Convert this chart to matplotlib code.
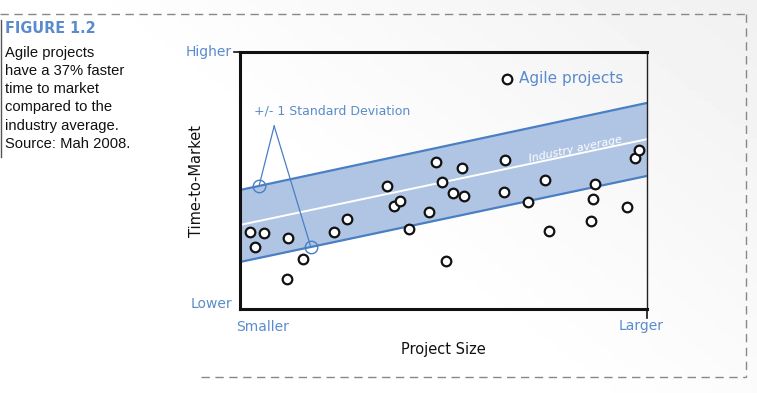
import matplotlib.pyplot as plt
import numpy as np

# project size (0 = smaller, 10 = larger) and time-to-market (0 = lower, 10 = higher)
agile_x = [0.25, 0.59, 0.37, 1.18, 1.15, 1.55, 2.31, 2.63, 3.61, 3.78, 3.93, 4.15, 4.64, 4.82, 4.96,
           5.06, 5.23, 5.45, 5.50, 6.51, 6.49, 7.49, 7.08, 7.59, 8.72, 8.67, 8.62, 9.51, 9.71, 9.80]
agile_y = [3.00, 2.96, 2.41, 2.76, 1.17, 1.95, 3.00, 3.50, 4.79, 4.01, 4.20, 3.11, 3.77, 5.72, 4.94,
           1.87, 4.51, 5.49, 4.40, 5.80, 4.55, 5.02, 4.16, 3.04, 4.86, 4.28, 3.42, 3.97, 5.88, 6.19]

band_x = [0.0, 10.0]
industry_avg = [3.27, 6.61]
band_upper = [4.63, 8.02]
band_lower = [1.83, 5.18]

caption_title = "FIGURE 1.2"
caption_lines = ["Agile projects", "have a 37% faster", "time to market",
                 "compared to the", "industry average.", "Source: Mah 2008."]

BLUE = "#5a8bcc"
EDGE = "#4a7fc3"
FILL = "#b0c5e4"

fig = plt.figure(figsize=(7.57, 3.93), dpi=100)

# faint grey wash towards the lower right, like the scanned page
bg = fig.add_axes([0, 0, 1, 1], zorder=-10)
gx, gy = np.meshgrid(np.linspace(0, 1, 200), np.linspace(0, 1, 100))
wash = np.clip((gx - 0.45) * 0.9 + (0.55 - gy) * 0.6, 0, 1)
bg.imshow(1 - 0.07 * wash, cmap="gray", vmin=0, vmax=1, aspect="auto",
          extent=[0, 1, 0, 1], origin="upper")
bg.axis("off")

# dashed page frame
fig.add_artist(plt.Line2D([0.0, 0.985], [0.965, 0.965], transform=fig.transFigure,
                          color="#888888", lw=1, ls=(0, (6, 4))))
fig.add_artist(plt.Line2D([0.985, 0.985], [0.965, 0.04], transform=fig.transFigure,
                          color="#888888", lw=1, ls=(0, (6, 4))))
fig.add_artist(plt.Line2D([0.265, 0.985], [0.04, 0.04], transform=fig.transFigure,
                          color="#888888", lw=1, ls=(0, (6, 4))))
fig.add_artist(plt.Line2D([0.001, 0.001], [0.95, 0.6], transform=fig.transFigure,
                          color="#555555", lw=1))

# caption on the left
fig.text(0.007, 0.928, caption_title, color=BLUE, fontsize=11.5, fontweight="bold",
         family="DejaVu Sans", fontstretch="condensed", va="center")
for i, line in enumerate(caption_lines):
    fig.text(0.007, 0.866 - i * 0.0465, line, color="#111111", fontsize=10.6,
             family="Liberation Sans", va="center")

ax = fig.add_axes([0.317, 0.2137, 0.538, 0.654])
ax.set_xlim(0, 10)
ax.set_ylim(0, 10)
ax.patch.set_alpha(0)

ax.fill_between(band_x, band_lower, band_upper, color=FILL, lw=0, zorder=1)
ax.plot(band_x, band_upper, color=EDGE, lw=1.6, zorder=2)
ax.plot(band_x, band_lower, color=EDGE, lw=1.6, zorder=2)
ax.plot(band_x, industry_avg, color="white", lw=1.4, zorder=2)

ax.scatter(agile_x, agile_y, s=48, facecolor="white", edgecolor="#111111",
           linewidth=1.6, zorder=4)

# legend
ax.scatter([6.56], [8.95], s=48, facecolor="white", edgecolor="#111111", linewidth=1.6,
           zorder=4, clip_on=False)
ax.text(6.85, 8.95, "Agile projects", color=BLUE, fontsize=11, va="center", ha="left")

# standard deviation callout
ax.text(0.34, 7.7, "+/- 1 Standard Deviation", color=BLUE, fontsize=9, va="center")
peak = (0.84, 7.12)
for cx, cy in [(0.47, 4.80), (1.74, 2.41)]:
    ax.plot([peak[0], cx], [peak[1], cy], color=EDGE, lw=0.9, zorder=3)
    ax.plot([cx], [cy], marker="o", ms=9, mfc="none", mec=EDGE, mew=1.0, zorder=3)

ax.text(8.23, 6.22, "Industry average", color="white", fontsize=8, rotation=12,
        ha="center", va="center", style="italic", rotation_mode="anchor")

# axes frame
for side in ["left", "top", "bottom"]:
    ax.spines[side].set_linewidth(2.2)
    ax.spines[side].set_color("#111111")
ax.spines["right"].set_linewidth(1.0)
ax.spines["right"].set_linestyle((0, (4, 1)))
ax.spines["right"].set_color("#222222")
ax.set_xticks([])
ax.set_yticks([])
# little tick stubs at the "Higher" and "Larger" ends
ax.plot([-0.15, 0], [10, 10], color="#111111", lw=1.2, clip_on=False)
ax.plot([10, 10], [0, -0.35], color="#111111", lw=1.2, clip_on=False)

ax.text(-0.2, 10, "Higher", color=BLUE, fontsize=10, ha="right", va="center")
ax.text(-0.2, 0.2, "Lower", color=BLUE, fontsize=10, ha="right", va="center")
ax.text(0.55, -0.7, "Smaller", color=BLUE, fontsize=10, ha="center", va="center")
ax.text(9.85, -0.65, "Larger", color=BLUE, fontsize=10, ha="center", va="center")
ax.set_xlabel("Project Size", fontsize=10.5, color="#111111", labelpad=24)
ax.set_ylabel("Time-to-Market", fontsize=10.5, color="#111111")
ax.yaxis.set_label_coords(-0.088, 0.5)

fig.savefig("out.png", dpi=100)
